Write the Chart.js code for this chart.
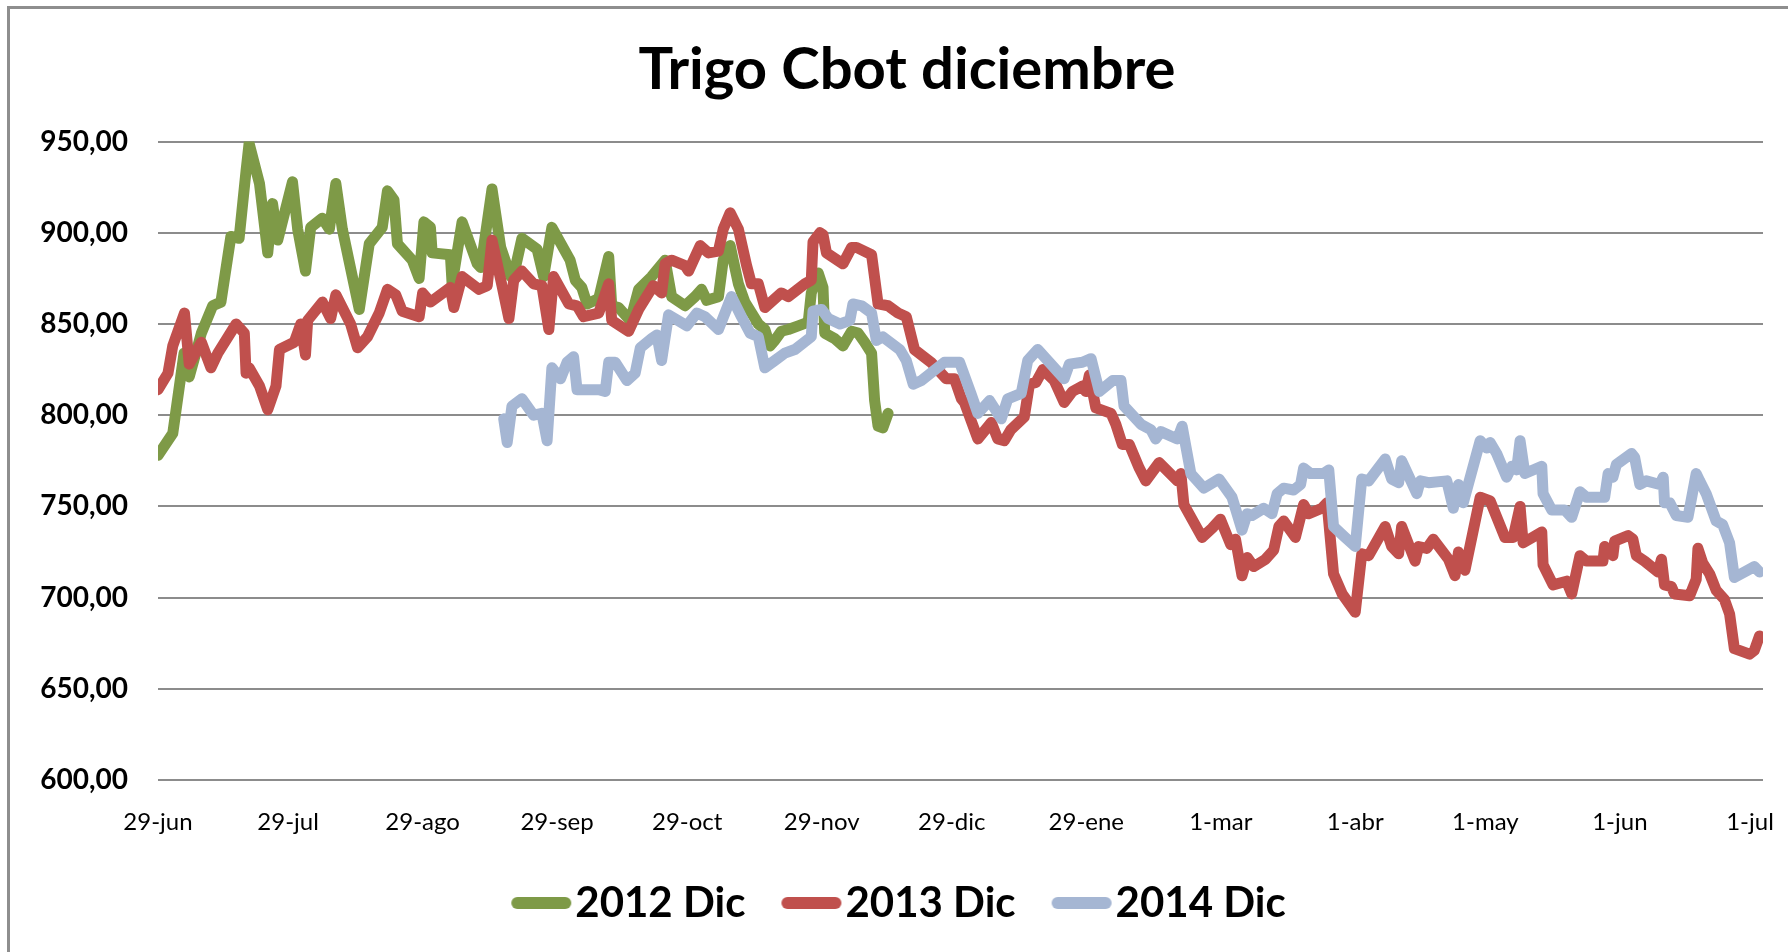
<!DOCTYPE html>
<html>
<head>
<meta charset="utf-8">
<title>Trigo Cbot diciembre</title>
<script src="https://cdn.jsdelivr.net/npm/chart.js@4.4.1/dist/chart.umd.min.js"></script>
<style>
  html, body { margin: 0; padding: 0; background: #fff; overflow: hidden; }
  #frame { position: absolute; left: 7px; top: 6px; width: 2000px; height: 1200px;
           border-left: 3px solid #8e8e8e; border-top: 3px solid #8e8e8e; }
  #chart { position: absolute; left: 0; top: 0; }
</style>
</head>
<body>
<div id="frame"></div>
<canvas id="chart" width="1788" height="952"></canvas>
<script>
// x axis: days counted from 29-jun
const xTickDays = [0, 30, 61, 92, 122, 153, 183, 214, 245, 276, 306, 337, 367];
const xTickLabels = ['29-jun', '29-jul', '29-ago', '29-sep', '29-oct', '29-nov', '29-dic',
                     '29-ene', '1-mar', '1-abr', '1-may', '1-jun', '1-jul'];

// 2012 Dic
const days2012 = [0, 3.4, 6, 7.2, 10, 12.6, 14.5, 16.8, 18.7, 20.3, 21, 23.4, 25.3, 26.4, 27.6,
  31, 32.2, 34, 35.2, 37.9, 39.5, 41, 42.5, 44, 46.4, 48.7, 51.7, 52.9, 54.4, 55.2, 58.6, 60.2,
  61.3, 62.8, 63.2, 67.4, 67.8, 70.1, 73.6, 74.4, 77, 79, 81.3, 82.4, 83.9, 87.4, 88.9, 90.8, 95,
  96.2, 97.7, 98.9, 101.6, 103.9, 104.6, 106.2, 107.7, 108.9, 110.8, 113.8, 116.9, 118.4, 121.5,
  123.8, 125.3, 126.5, 129.2, 130.3, 131.9, 133.8, 135.3, 138.4, 139.9, 141.1, 142.2, 143.7,
  145.3, 147.6, 149.9, 150.6, 152.2, 153.3, 153.7, 156, 157.9, 159.9, 161.4, 162.9, 164.5,
  165.2, 166, 167.1, 168.3];
const dic2012 = [778, 790, 834, 821, 845, 860, 862, 898, 897, 934, 949, 927, 889, 916, 896,
  928, 902, 879, 903, 908, 902, 927, 902, 885, 858, 894, 903, 923, 918, 894, 885, 875,
  906, 903, 889, 888, 872, 906, 883, 881, 924, 892, 876, 881, 897, 891, 876, 903, 885,
  874, 870, 861, 864, 887, 860, 859, 855, 852, 869, 876, 885, 865, 860,
  865, 869, 863, 865, 885, 893, 872, 862, 850, 847, 838, 841, 846,
  847, 849, 851, 867, 878, 870, 845, 842, 838, 846, 845, 840, 834,
  808, 794, 793, 801];

// 2013 Dic
const days2013 = [0, 2.3, 3.4, 6.1, 7.2, 10, 12.2, 13.8, 18, 19.9,
  20.3, 21, 23.4, 25.3, 27.2, 28, 31.4, 32.9, 34, 34.5,
  37.9, 39.8, 41, 44.4, 46, 48.3, 51, 52.9, 54.8, 56.3,
  60.2, 61, 62.8, 67.4, 68.2, 70.1, 74, 75.9, 77, 79.3,
  80.9, 82, 83.9, 86.6, 88.5, 90.1, 91.2, 94.7, 96.6, 98.1,
  101.6, 103.9, 104.6, 108.5, 110.8, 114.2, 116.1, 116.9, 118.4, 121.5,
  122.3, 125, 126.9, 129.2, 130.3, 131.9, 133.8, 135.7, 136.8, 138.4,
  139.9, 143.7, 145.3, 149.1, 150.6, 151, 152.6, 153.3, 154.1, 157.9,
  159.9, 161, 164.5, 166, 168.3, 170.6, 172.5, 174.4, 178.2, 181.7,
  183.6, 185.2, 185.9, 189, 192.1, 193.6, 195.1, 196.6, 199.7, 200.9,
  202.4, 204, 206.6, 208.9, 210.8, 213.1, 213.9, 214.7, 216.2, 219.7,
  220.8, 222.3, 223.9, 226.2, 227.7, 230.8, 235, 235.8, 236.5, 240.7,
  243, 244.9, 247.3, 248.4, 249.9, 251.1, 252.6, 255.3, 257.2, 258.4,
  259.5, 262.2, 264.1, 265.3, 268.3, 269.5, 271, 273, 276, 277.5,
  279.1, 282.9, 284.4, 286, 286.7, 289.8, 290.6, 292.5, 294, 297.5,
  299, 299.8, 301.3, 304.8, 307.1, 310.5, 312.4, 314, 314.7, 319,
  319.3, 321.6, 324.7, 325.9, 327.8, 329.3, 333.1, 333.5, 335.4, 335.8,
  338.9, 340, 340.8, 342.7, 345.8, 346.6, 347.3, 348.9, 349.6, 353.1,
  354.6, 355, 356.1, 357.7, 359.2, 361.1, 362.3, 363.4, 366.9, 368,
  369.2];
const dic2013 = [814, 823, 838, 856, 828, 840, 826, 834, 850, 845,
  823, 826, 816, 803, 816, 836, 840, 850, 833, 852,
  862, 853, 866, 850, 837, 843, 856, 869, 866, 857,
  854, 867, 862, 870, 859, 876, 869, 871, 896, 871,
  853, 874, 879, 872, 871, 847, 876, 861, 860, 854,
  856, 872, 852, 846, 858, 871, 867, 883, 885, 882,
  879, 893, 889, 890, 902, 911, 902, 882, 872, 872,
  859, 867, 865, 872, 874, 895, 900, 899, 889, 883,
  892, 892, 888, 861, 860, 856, 854, 836, 829, 820,
  820, 809, 807, 787, 796, 787, 786, 792, 799, 817,
  818, 825, 819, 807, 813, 816, 813, 822, 804, 801,
  795, 784, 784, 771, 764, 774, 764, 768, 751, 733,
  738, 743, 729, 732, 712, 722, 717, 721, 726, 739,
  742, 733, 751, 746, 749, 752, 713, 702, 692, 724,
  723, 739, 728, 724, 739, 720, 728, 727, 732, 721,
  712, 725, 715, 755, 753, 733, 733, 750, 730, 736,
  718, 707, 709, 702, 723, 720, 720, 728, 723, 731,
  734, 732, 723, 720, 714, 721, 707, 706, 702, 701,
  710, 727, 719, 713, 704, 699, 691, 672, 669, 671,
  679];

// 2014 Dic
const days2014 = [79.7, 80.5, 81.6, 83.9, 86.6, 88.5, 89.7, 90.8, 92.8, 94.3,
  95.8, 96.6, 101.6, 103.1, 103.9, 105.4, 108.1, 110, 111.2, 113.8,
  115, 116.1, 117.7, 121.9, 124.2, 126.1, 129.2, 132.2, 134.5, 136.5,
  138.4, 139.9, 142.2, 144.5, 146.8, 150.6, 151, 153, 154.5, 157.2,
  159.5, 160.2, 162.2, 164.5, 165.6, 167.1, 171, 172.5, 174.1, 176,
  181.3, 184.8, 187.4, 189, 191.7, 194.4, 195.9, 199, 200.5, 202.8,
  208.9, 210.1, 213.1, 215.1, 217, 220.1, 222, 222.7, 226.6, 228.9,
  230, 231.2, 235, 236.1, 238.1, 241.1, 244.6, 247.6, 249.9, 251.1,
  252.2, 254.9, 256.8, 258, 259.5, 261.8, 263.4, 264.1, 265.7, 268.7,
  269.9, 271, 273.7, 276, 277.5, 279.1, 282.9, 284.4, 286, 286.7,
  290.2, 291, 292.9, 297.1, 298.6, 299.8, 300.9, 304.8, 306.3, 307.1,
  308.6, 310.9, 312.1, 313.2, 314, 315.1, 319, 319.3, 321.3, 324.3,
  325.9, 327.8, 329.3, 333.5, 334.3, 335.4, 336.2, 339.7, 340.4, 341.6,
  343.1, 346.2, 347, 347.3, 348.5, 350, 352.7, 354.6, 355.4, 356.9,
  359.2, 360.7, 362.3, 363.4, 368, 369.2];
const dic2014 = [798, 785, 805, 809, 800, 801, 786, 826, 820, 829,
  832, 814, 814, 813, 829, 829, 819, 823, 837, 842,
  844, 830, 855, 849, 856, 854, 847, 865, 854, 845,
  843, 826, 830, 834, 836, 843, 857, 858, 853, 850,
  852, 861, 860, 856, 841, 843, 836, 830, 817, 819,
  829, 829, 812, 801, 808, 798, 809, 812, 830, 836,
  820, 828, 829, 831, 813, 819, 819, 805, 795, 792,
  787, 791, 787, 794, 768, 760, 765, 755, 737, 746,
  745, 749, 746, 757, 760, 759, 762, 771, 768, 768,
  770, 739, 733, 728, 765, 764, 776, 765, 763, 775,
  757, 764, 763, 764, 749, 762, 752, 786, 782, 785,
  779, 766, 772, 770, 786, 768, 772, 757, 748, 748,
  744, 758, 755, 755, 768, 766, 773, 779, 777, 762,
  764, 762, 766, 752, 752, 745, 744, 768, 764, 757,
  742, 740, 730, 711, 717, 714];

const seriesNames = ['2012 Dic', '2013 Dic', '2014 Dic'];
const seriesColors = ['#7e9a47', '#c0504d', '#a5b6d3'];

const toPoints = (days, values) => days.map((d, i) => ({ x: d, y: values[i] }));

// thick rounded stroke used as legend key
function legendMarker(color) {
    const c = document.createElement('canvas');
    c.width = 62;
    c.height = 14;
    const g = c.getContext('2d');
    g.strokeStyle = color;
    g.lineWidth = 12;
    g.lineCap = 'round';
    g.beginPath();
    g.moveTo(7, 7);
    g.lineTo(55, 7);
    g.stroke();
    return c;
}

// tick labels overhang their scale boxes, don't let them get clipped
const unclipLabels = {
    id: 'unclipLabels',
    afterLayout(chart) {
        Object.values(chart.scales).forEach(s => { s._computeLabelArea = () => undefined; });
        chart.scales.y.left = 0;
        chart.scales.x.bottom = chart.height;
    }
};

const noScalePadding = (scale) => {
    scale.paddingLeft = 0;
    scale.paddingRight = 0;
    scale.paddingTop = 0;
    scale.paddingBottom = 0;
};

const padLeft = 51;

new Chart(document.getElementById('chart'), {
    type: 'line',
    data: {
        datasets: [
            { label: seriesNames[0], data: toPoints(days2012, dic2012), borderColor: seriesColors[0], backgroundColor: seriesColors[0], order: 3 },
            { label: seriesNames[1], data: toPoints(days2013, dic2013), borderColor: seriesColors[1], backgroundColor: seriesColors[1], order: 2 },
            { label: seriesNames[2], data: toPoints(days2014, dic2014), borderColor: seriesColors[2], backgroundColor: seriesColors[2], order: 1 }
        ]
    },
    plugins: [unclipLabels],
    options: {
        responsive: false,
        animation: false,
        events: [],
        layout: { padding: { left: padLeft, right: 25, top: 0, bottom: 18 } },
        elements: {
            line: { borderWidth: 11, tension: 0, borderCapStyle: 'round', borderJoinStyle: 'round' },
            point: { radius: 0, hoverRadius: 0 }
        },
        plugins: {
            title: {
                display: true,
                text: 'Trigo Cbot diciembre',
                color: '#000',
                font: { family: 'Lato', size: 58, weight: 'bold', lineHeight: 1.2 },
                padding: { top: 35, bottom: 37 }
            },
            legend: {
                position: 'bottom',
                labels: {
                    usePointStyle: true,
                    pointStyleWidth: 26,
                    boxHeight: 12,
                    padding: 53,
                    color: '#000',
                    font: { family: 'Lato', size: 42, weight: 'bold' },
                    sort: (a, b) => a.datasetIndex - b.datasetIndex,
                    generateLabels: (chart) => Chart.defaults.plugins.legend.labels.generateLabels(chart)
                        .map(item => ({ ...item, pointStyle: legendMarker(item.strokeStyle) }))
                }
            },
            tooltip: { enabled: false }
        },
        scales: {
            x: {
                type: 'linear',
                min: 0,
                max: 370,
                afterBuildTicks: (scale) => { scale.ticks = xTickDays.map(v => ({ value: v })); },
                afterFit: (scale) => { scale.height = 49; noScalePadding(scale); },
                grid: { display: false },
                border: { display: false },
                ticks: {
                    autoSkip: false,
                    maxRotation: 0,
                    padding: 20,
                    color: '#000',
                    font: { family: 'Lato', size: 24 },
                    callback: (value, index) => xTickLabels[index]
                }
            },
            y: {
                min: 600,
                max: 950,
                afterFit: (scale) => { scale.width = 158 - padLeft; noScalePadding(scale); },
                grid: { color: '#8c8c8c', lineWidth: 2, drawTicks: false },
                border: { display: false },
                ticks: {
                    stepSize: 50,
                    padding: 30,
                    color: '#000',
                    font: { family: 'Lato', size: 28, weight: 'bold' },
                    callback: (value) => value.toFixed(2).replace('.', ',')
                }
            }
        }
    }
});
</script>
</body>
</html>
